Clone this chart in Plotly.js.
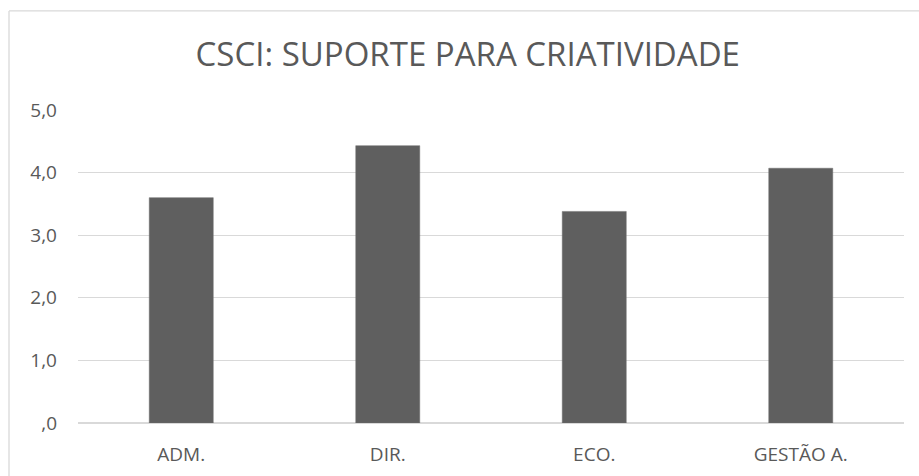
<!DOCTYPE html>
<html>
<head>
<meta charset="utf-8">
<script src="https://cdn.plot.ly/plotly-3.0.1.min.js"></script>
<style>
html,body{margin:0;padding:0;background:#fff;}
#chart{width:919px;height:476px;}
</style>
</head>
<body>
<div id="chart"></div>
<script>
const categories = ["ADM.", "DIR.", "ECO.", "GESTÃO A."];
const values = [3.60, 4.43, 3.38, 4.07];
const yTickVals = [0, 1, 2, 3, 4, 5];
const yTickText = [",0", "1,0", "2,0", "3,0", "4,0", "5,0"];

const trace = {
  type: "bar",
  x: categories,
  y: values,
  marker: {color: "#5f5f5f", line: {color: "#6e6e6e", width: 0.5}},
  hoverinfo: "x+y"
};

const layout = {
  width: 919,
  height: 476,
  margin: {l: 78, r: 15, t: 110, b: 53},
  paper_bgcolor: "#ffffff",
  plot_bgcolor: "#ffffff",
  font: {family: "Open Sans, sans-serif", color: "#595959", size: 17},
  title: {
    text: "CSCI: SUPORTE PARA CRIATIVIDADE",
    font: {family: "Open Sans, sans-serif", size: 33, color: "#595959"},
    x: 0.509, xanchor: "center",
    y: 1 - 54/476, yanchor: "middle", yref: "container"
  },
  bargap: 0.69,
  showlegend: false,
  xaxis: {
    type: "category",
    showgrid: false,
    showline: false,
    zeroline: false,
    ticks: "outside",
    ticklen: 14,
    tickcolor: "rgba(0,0,0,0)",
    tickfont: {size: 19, color: "#595959"}
  },
  yaxis: {
    range: [0, 5],
    tickvals: yTickVals,
    ticktext: yTickText,
    showgrid: true,
    gridcolor: "#d9d9d9",
    gridwidth: 1.3,
    zeroline: true,
    zerolinecolor: "#d9d9d9",
    zerolinewidth: 1.3,
    showline: false,
    ticklabelstandoff: 20,
    tickfont: {size: 19, color: "#595959"}
  },
  shapes: [
    {type: "line", xref: "paper", yref: "paper",
     x0: -69/826, x1: -69/826, y0: 1 + 99/312.7, y1: -60/312.7,
     line: {color: "#d9d9d9", width: 1.3}},
    {type: "line", xref: "paper", yref: "paper",
     x0: -69/826, x1: 1.1, y0: 1 + 99/312.7, y1: 1 + 99/312.7,
     line: {color: "#d9d9d9", width: 1.3}}
  ]
};

Plotly.newPlot("chart", [trace], layout, {displayModeBar: false, staticPlot: true});
</script>
</body>
</html>
